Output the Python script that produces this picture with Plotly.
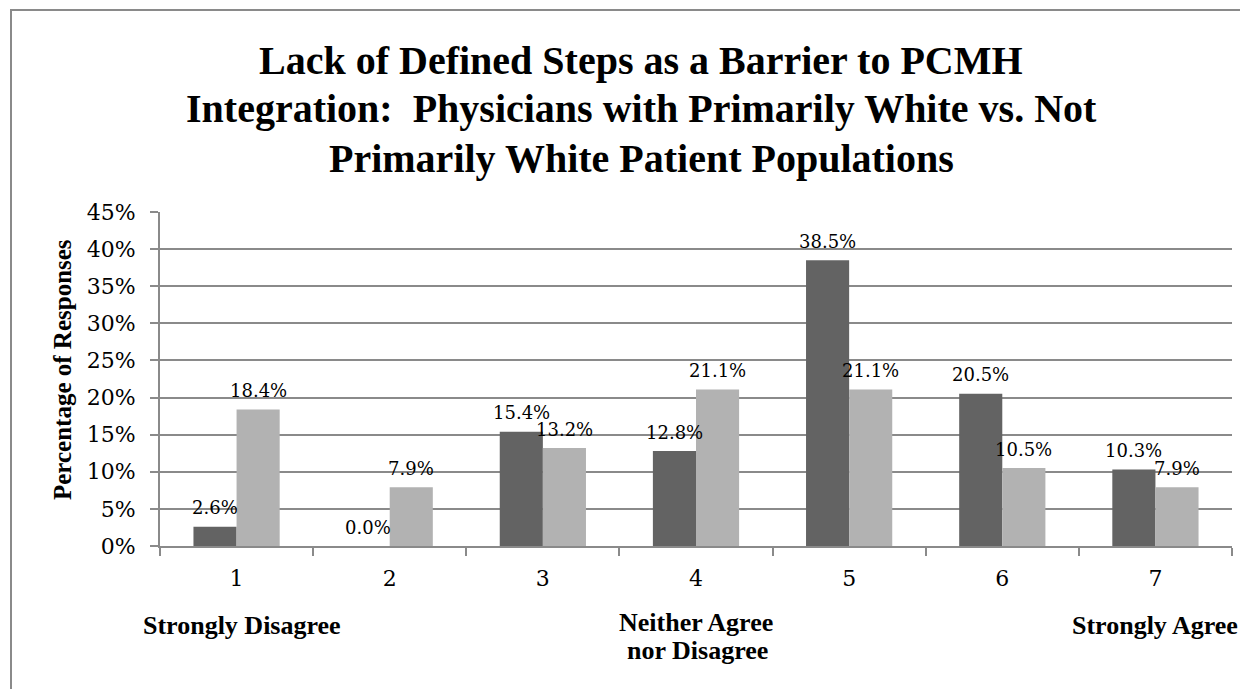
import plotly.graph_objects as go

categories = ["1", "2", "3", "4", "5", "6", "7"]
primarily_white = [0.026, 0.0, 0.154, 0.128, 0.385, 0.205, 0.103]
not_primarily_white = [0.184, 0.079, 0.132, 0.211, 0.211, 0.105, 0.079]
y_ticks = [0, 0.05, 0.10, 0.15, 0.20, 0.25, 0.30, 0.35, 0.40, 0.45]
y_tick_text = ["0%", "5%", "10%", "15%", "20%", "25%", "30%", "35%", "40%", "45%"]
title_lines = ["Lack of Defined Steps as a Barrier to PCMH",
               "Integration:  Physicians with Primarily White vs. Not",
               "Primarily White Patient Populations"]

W, H = 1248, 689
OFF = 8  # page body margin
L, R, T, B = 152, 24, 204, 151
pw, ph = W - L - R, H - T - B
BARGAP = 0.437

def px(x):
    return (x - OFF - L) / pw

def py(y):
    return (H - B - (y - OFF)) / ph

serif_b = "Liberation Serif"
label_font = dict(family="DejaVu Serif", size=18, color="black")

fig = go.Figure()
fig.add_trace(go.Bar(
    x=categories, y=primarily_white, name="Primarily White",
    marker=dict(color="#636363", line=dict(width=0)),
))
fig.add_trace(go.Bar(
    x=categories, y=not_primarily_white, name="Not Primarily White",
    marker=dict(color="#b2b2b2", line=dict(width=0)),
))

annotations = []
# title lines
for line, yc in zip(title_lines, [60, 109, 158]):
    annotations.append(dict(
        text="<b>" + line + "</b>", x=px(641), y=py(yc), xref="paper", yref="paper",
        showarrow=False, xanchor="center", yanchor="middle",
        font=dict(family=serif_b, size=40, color="black")))

annotations.append(dict(
    text="<b>Percentage of Responses</b>", x=px(62), y=py(370),
    xref="paper", yref="paper", showarrow=False, textangle=-90,
    xanchor="center", yanchor="middle",
    font=dict(family=serif_b, size=25, color="black")))

for txt, xc, yc in [("Strongly Disagree", 242, 625), ("Neither Agree", 696, 622),
                    ("nor Disagree", 697, 650), ("Strongly Agree", 1155, 625)]:
    annotations.append(dict(
        text="<b>" + txt + "</b>", x=px(xc), y=py(yc),
        xref="paper", yref="paper", showarrow=False,
        xanchor="center", yanchor="middle",
        font=dict(family=serif_b, size=26, color="black")))

# data labels above bars (x given as category index)
bar_w = pw / len(categories) * (1 - BARGAP) / 2
for series, shift in [(primarily_white, -bar_w / 2), (not_primarily_white, bar_w / 2)]:
    for i, v in enumerate(series):
        annotations.append(dict(
            text=f"{v*100:.1f}%", x=i, y=v, xref="x", yref="y",
            showarrow=False, xanchor="center", yanchor="middle",
            xshift=shift, yshift=19, font=label_font))

fig.update_layout(
    width=W, height=H,
    margin=dict(l=L, r=R, t=T, b=B, pad=0),
    paper_bgcolor="white", plot_bgcolor="white",
    barmode="group", bargap=BARGAP, bargroupgap=0,
    showlegend=False,
    annotations=annotations,
    shapes=[dict(type="rect", xref="paper", yref="paper",
                 x0=px(11), x1=px(1300), y0=py(760), y1=py(10),
                 line=dict(color="#8a8a8a", width=2), layer="below")],
    xaxis=dict(
        type="category", range=[-0.5, len(categories) - 0.5],
        showline=True, linecolor="#8a8a8a", linewidth=2,
        ticks="outside", tickson="boundaries", ticklen=8, tickwidth=2,
        tickcolor="#8a8a8a", showgrid=False,
        tickfont=dict(family="DejaVu Serif", size=22, color="black"),
        ticklabelstandoff=12,
    ),
    yaxis=dict(
        range=[0, 0.45], tickvals=y_ticks, ticktext=y_tick_text,
        showline=True, linecolor="#8a8a8a", linewidth=2,
        ticks="outside", ticklen=8, tickwidth=2, tickcolor="#8a8a8a",
        showgrid=True, gridcolor="#8a8a8a", gridwidth=2,
        zeroline=False,
        tickfont=dict(family="DejaVu Serif", size=22, color="black"),
        ticklabelstandoff=10,
    ),
)

fig.write_html("out.html")
